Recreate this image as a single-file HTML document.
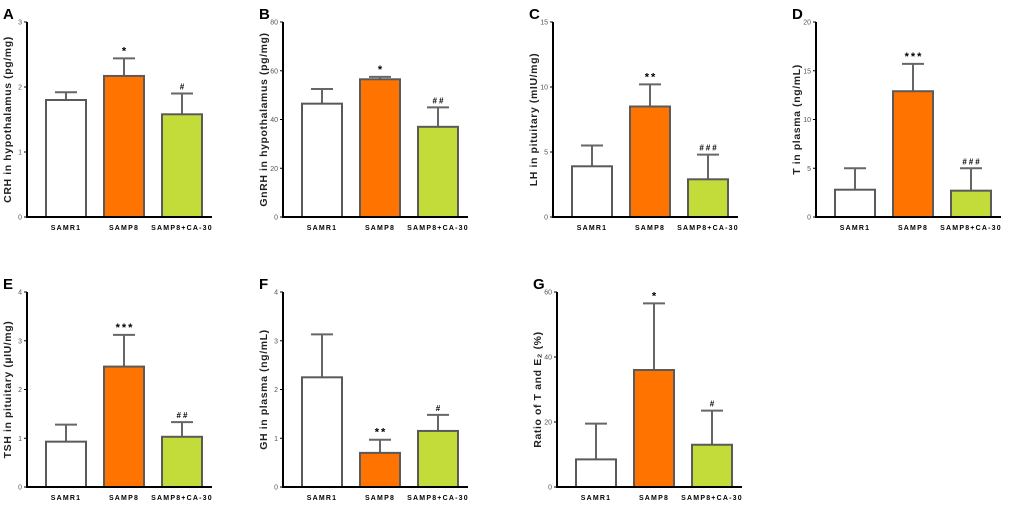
<!DOCTYPE html>
<html><head><meta charset="utf-8"><style>
body{margin:0;background:#fff;}
svg{display:block;font-family:"Liberation Sans",Arial,sans-serif;}
</style></head><body>
<svg id="c" width="1020" height="508"></svg>
<script>
const categories=["SAMR1","SAMP8","SAMP8+CA-30"];
const panelLetters=["A","B","C","D","E","F","G"];
const yTitles=["CRH in hypothalamus (pg/mg)","GnRH in hypothalamus (pg/mg)","LH in pituitary (mIU/mg)","T in plasma (ng/mL)","TSH in pituitary (\u00b5IU/mg)","GH in plasma (ng/mL)","Ratio of T and E\u2082 (%)"];
const yMax=[3,80,15,20,4,4,60];
const yStep=[1,20,5,5,1,1,20];
const meansA=[1.8,2.17,1.58], errA=[0.12,0.27,0.32];
const meansB=[46.5,56.5,37], errB=[6,1,8];
const meansC=[3.9,8.5,2.9], errC=[1.6,1.7,1.9];
const meansD=[2.8,12.9,2.7], errD=[2.2,2.8,2.3];
const meansE=[0.93,2.47,1.03], errE=[0.35,0.65,0.3];
const meansF=[2.25,0.7,1.15], errF=[0.88,0.27,0.33];
const meansG=[8.5,36,13], errG=[11,20.5,10.5];
const means=[meansA,meansB,meansC,meansD,meansE,meansF,meansG];
const errs=[errA,errB,errC,errD,errE,errF,errG];
const marks=[["","*","#"],["","*","##"],["","**","###"],["","***","###"],["","***","##"],["","**","#"],["","*","#"]];
const fills=["#ffffff","#ff7400","#c4dc3a"];
const layout=[[27,22],[283,22],[553,22],[816,22],[27,292],[283,292],[557,292]];
const H=195;
const svg=document.getElementById('c');
const NS="http://www.w3.org/2000/svg";
function mk(t,a,p){const e=document.createElementNS(NS,t);for(const k in a)e.setAttribute(k,a[k]);(p||svg).appendChild(e);return e;}
layout.forEach((L,i)=>{
  const ax=L[0],top=L[1],bot=top+H;
  const g=mk('g',{});
  
  
  const y=v=>bot-v/yMax[i]*H;
  const lt=mk('text',{x:ax-24,y:top-3,'font-size':15,'font-weight':'bold'},g);lt.textContent=panelLetters[i];
  
  const yt=mk('text',{x:0,y:0,'font-size':10.5,'font-weight':'bold','fill':'#222','text-anchor':'middle','letter-spacing':'0.6',transform:`translate(${ax-16},${top+H/2}) rotate(-90)`},g);
  yt.textContent=yTitles[i];
  
  for(let v=0;v<=yMax[i]+1e-9;v+=yStep[i]){
    mk('line',{x1:ax-3,x2:ax,y1:y(v),y2:y(v),stroke:'#000','stroke-width':1},g);
    const t=mk('text',{x:ax-5,y:y(v)+2.5,'font-size':7,'fill':'#555','text-anchor':'end'},g);t.textContent=v;
    
  }
  const offs=[19,77,135];
  categories.forEach((c,j)=>{
    const x0=ax+offs[j],w=40,m=means[i][j],e=errs[i][j];
    const cx=x0+w/2;
    const el=mk('line',{x1:cx,x2:cx,y1:y(m),y2:y(m+e),stroke:'#666','stroke-width':2},g);
    
    mk('line',{x1:cx-11,x2:cx+11,y1:y(m+e),y2:y(m+e),stroke:'#666','stroke-width':2},g);
    const r=mk('rect',{x:x0,y:y(m),width:w,height:bot-y(m),fill:fills[j],stroke:'#5a5a5a','stroke-width':2},g);
    
    if(marks[i][j]){const s=mk('text',{x:cx+1,y:y(m+e)-4,'font-size':marks[i][j][0]=='*'?11:8,'font-weight':'bold','text-anchor':'middle','letter-spacing':'2'},g);s.textContent=marks[i][j];
      }
    const xl=mk('text',{x:cx,y:bot+13,'font-size':7,'font-weight':'bold','text-anchor':'middle','letter-spacing':'1.2'},g);xl.textContent=c;
    
  });
  mk('line',{x1:ax,x2:ax,y1:top,y2:bot+1,stroke:'#000','stroke-width':2},g);
  mk('line',{x1:ax-1,x2:ax+185,y1:bot,y2:bot,stroke:'#000','stroke-width':2},g);
});
</script>
</body></html>
